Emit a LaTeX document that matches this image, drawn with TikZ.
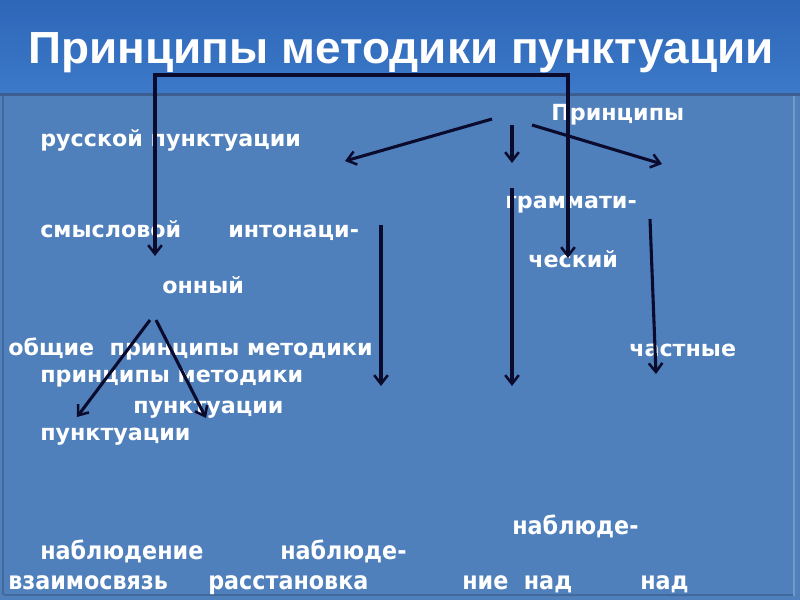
\documentclass[tikz,border=0pt]{standalone}
\usepackage{fontspec}
\setmainfont{DejaVu Sans}
\newfontfamily\titlefont[FakeStretch=1.02]{Liberation Sans}
\newfontfamily\condfont{DejaVu Sans Condensed}
\usetikzlibrary{arrows.meta}
\definecolor{bodyblue}{HTML}{4F80BB}
\definecolor{titletop}{HTML}{2E66B8}
\definecolor{titlebot}{HTML}{3C79C8}
\definecolor{edgeline}{HTML}{3D5F8F}
\definecolor{arrowc}{HTML}{0B0B2E}
\tikzset{
  lbl/.style={anchor=base west, inner sep=0pt, text=white, font=\fontsize{15.8}{18}\selectfont\bfseries},
  clbl/.style={anchor=base west, inner sep=0pt, text=white, font=\condfont\fontsize{17.6}{20}\selectfont\bfseries},
  ttl/.style={anchor=base, inner sep=0pt, text=white, font=\titlefont\fontsize{32}{36}\selectfont\bfseries},
  arr/.style={draw=arrowc, line width=2.2pt, -{Straight Barb[length=2.2mm,width=3.4mm,line width=1.8pt]}},
  dbl/.style={draw=arrowc, line width=2.2pt, {Straight Barb[length=2.2mm,width=3.4mm,line width=1.8pt]}-{Straight Barb[length=2.2mm,width=3.4mm,line width=1.8pt]}}
}
\begin{document}
\begin{tikzpicture}[x=0.025cm,y=-0.025cm]
\useasboundingbox (0,0) rectangle (800,600);
% backgrounds
\fill[bodyblue] (0,0) rectangle (800,600);
\shade[top color=titletop, bottom color=titlebot] (0,0) rectangle (800,93);
\fill[edgeline] (0,93) rectangle (800,96);
\fill[edgeline!70!bodyblue] (2,96) rectangle (4,595);
\fill[edgeline!70!bodyblue] (4,594) rectangle (794,596);
\fill[bodyblue!80!white] (793,96) rectangle (795,596);
% title
\node[ttl] (title) at (401,63) {Принципы методики пунктуации};
% texts
\node[lbl] (princ) at (551,120) {Принципы};
\node[lbl] (russ) at (40,146) {русской пунктуации};
\node[lbl] (gramm) at (505,208) {граммати-};
\node[lbl] (smysl) at (40,237) {смысловой};
\node[lbl] (inton) at (228,237) {интонаци-};
\node[lbl] (chesk) at (528,267) {ческий};
\node[lbl] (onny) at (162,293) {онный};
\node[lbl] (obsh) at (8,355) {общие\ \ принципы методики};
\node[lbl] (chast) at (629,356) {частные};
\node[lbl] (pm) at (40,382) {принципы методики};
\node[lbl] (punk1) at (133,413) {пунктуации};
\node[lbl] (punk2) at (40,440) {пунктуации};
\node[clbl] (nabl1) at (512,534) {наблюде-};
\node[clbl] (nabl2) at (40,559) {наблюдение};
\node[clbl] (nabl3) at (280,559) {наблюде-};
\node[clbl] (vzaim) at (8,589) {взаимосвязь};
\node[clbl] (rasst) at (208,589) {расстановка};
\node[clbl] (nie) at (462,589) {ние\ \ над};
\node[clbl] (nad) at (640,589) {над};
% connector coordinates
\coordinate (bL) at (155,256);
\coordinate (bTL) at (155,75);
\coordinate (bTR) at (568,75);
\coordinate (bR) at (568,258);
\coordinate (a2s) at (492,119);
\coordinate (a2e) at (345,161);
\coordinate (a3s) at (512,125);
\coordinate (a3e) at (512,163);
\coordinate (a4s) at (532,125);
\coordinate (a4e) at (662,164);
\coordinate (a5s) at (381,225);
\coordinate (a5e) at (381,386);
\coordinate (a6s) at (512,188);
\coordinate (a6e) at (512,386);
\coordinate (a7s) at (650,219);
\coordinate (a7e) at (656,374);
\coordinate (a8s) at (150,320);
\coordinate (a8e) at (77,417);
\coordinate (a9s) at (156,320);
\coordinate (a9e) at (206,418);
% connectors
\draw[dbl] (bL) -- (bTL) -- (bTR) -- (bR);
\draw[arr] (a2s) -- (a2e);
\draw[arr] (a3s) -- (a3e);
\draw[arr] (a4s) -- (a4e);
\draw[arr] (a5s) -- (a5e);
\draw[arr] (a6s) -- (a6e);
\draw[arr] (a7s) -- (a7e);
\draw[arr] (a8s) -- (a8e);
\draw[arr] (a9s) -- (a9e);
\end{tikzpicture}
\end{document}
